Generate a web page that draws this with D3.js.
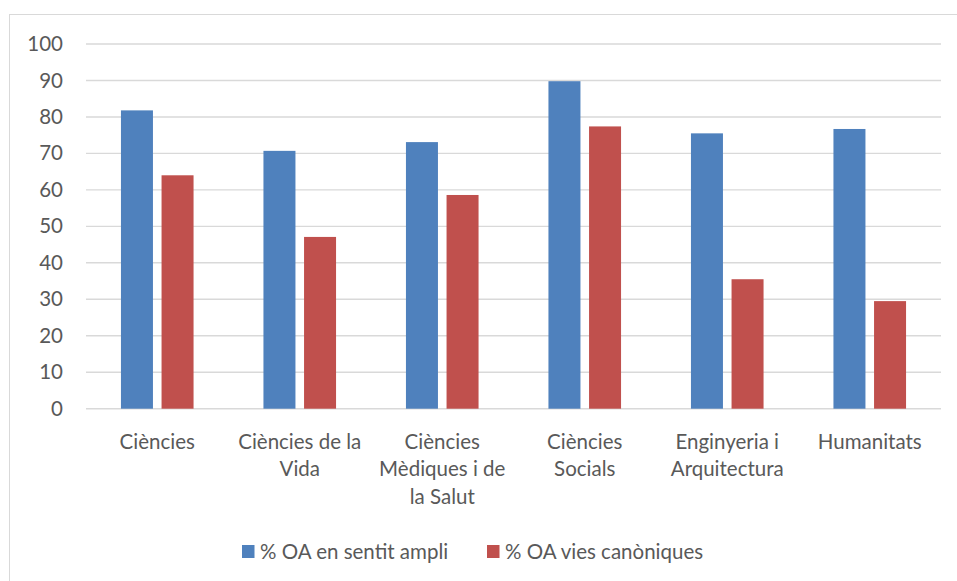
<!DOCTYPE html>
<html>
<head>
<meta charset="utf-8">
<script src="https://cdn.jsdelivr.net/npm/d3@7"></script>
<style>
  body { margin: 0; background: #fff; }
  svg text { font-family: Lato, "Open Sans", sans-serif; fill: #595959; }
</style>
</head>
<body>
<div id="chart"></div>
<script>
// categories and values
const categories = ["Ciències", "Ciències de la Vida", "Ciències Mèdiques i de la Salut",
  "Ciències Socials", "Enginyeria i Arquitectura", "Humanitats"];
const tickLabels = [["Ciències"], ["Ciències de la", "Vida"], ["Ciències", "Mèdiques i de", "la Salut"],
  ["Ciències", "Socials"], ["Enginyeria i", "Arquitectura"], ["Humanitats"]];
const seriesNames = ["% OA en sentit ampli", "% OA vies canòniques"];
const oaAmpli = [81.8, 70.7, 73.1, 89.8, 75.5, 76.7];
const oaCanoniques = [64.0, 47.1, 58.6, 77.4, 35.5, 29.5];
const yTicks = [0, 10, 20, 30, 40, 50, 60, 70, 80, 90, 100];
const colors = ["#4F81BD", "#C0504D"];

const width = 957, height = 581;
const plot = { left: 86, right: 941, top: 44, bottom: 408.7 };
const fontSize = "20.5px";

const svg = d3.select("#chart").append("svg")
  .attr("width", width)
  .attr("height", height);

// chart border (only top and left are in view)
svg.append("rect")
  .attr("x", 9.5).attr("y", 14.5)
  .attr("width", 1000).attr("height", 700)
  .attr("fill", "none")
  .attr("stroke", "#d9d9d9")
  .attr("stroke-width", 1);

const x = d3.scaleBand()
  .domain(categories)
  .range([plot.left, plot.right]);

const y = d3.scaleLinear()
  .domain([0, 100])
  .range([plot.bottom, plot.top]);

// gridlines
svg.append("g")
  .selectAll("line")
  .data(yTicks)
  .enter()
  .append("line")
  .attr("x1", plot.left).attr("x2", plot.right)
  .attr("y1", d => y(d)).attr("y2", d => y(d))
  .attr("stroke", "#d9d9d9")
  .attr("stroke-width", 1.4);

// y axis labels
const yAxis = svg.append("g")
  .attr("transform", "translate(" + (plot.left - 23) + ",0)")
  .call(d3.axisLeft(y).tickValues(yTicks).tickSize(0).tickPadding(0));
yAxis.select(".domain").remove();
yAxis.selectAll("text")
  .style("font-size", fontSize)
  .style("font-family", "Lato, 'Open Sans', sans-serif")
  .attr("fill", "#595959");

// bars
const barW = 32, gap = 8.6;
const series = [oaAmpli, oaCanoniques];
series.forEach((vals, s) => {
  svg.append("g")
    .selectAll("rect")
    .data(vals)
    .enter()
    .append("rect")
    .attr("x", (d, i) => {
      const c = x(categories[i]) + x.bandwidth() / 2;
      return s === 0 ? c - gap / 2 - barW : c + gap / 2;
    })
    .attr("y", d => y(d))
    .attr("width", barW)
    .attr("height", d => y(0) - y(d))
    .attr("fill", colors[s]);
});

// category labels
const xl = svg.append("g");
categories.forEach((c, i) => {
  const t = xl.append("text")
    .attr("x", x(c) + x.bandwidth() / 2)
    .attr("y", 448.5)
    .attr("text-anchor", "middle")
    .style("font-size", fontSize);
  tickLabels[i].forEach((line, k) => {
    t.append("tspan")
      .attr("x", x(c) + x.bandwidth() / 2)
      .attr("dy", k === 0 ? 0 : 27.5)
      .text(line);
  });
});

// legend
const legendX = [242, 487];
const legend = svg.append("g");
seriesNames.forEach((name, s) => {
  legend.append("rect")
    .attr("x", legendX[s]).attr("y", 545)
    .attr("width", 12.5).attr("height", 13)
    .attr("fill", colors[s]);
  legend.append("text")
    .attr("x", legendX[s] + 18)
    .attr("y", 558.5)
    .style("font-size", fontSize)
    .text(name);
});
</script>
</body>
</html>
